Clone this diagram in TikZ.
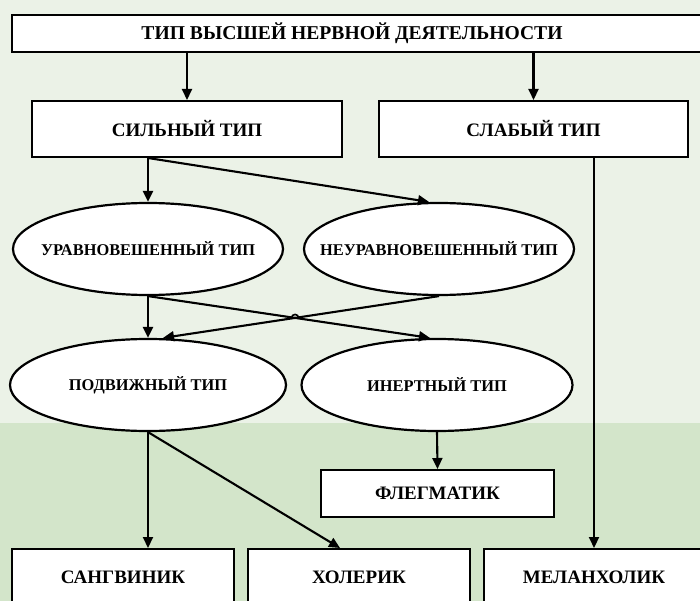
\documentclass[tikz,border=0pt]{standalone}
\usepackage{fontspec}
\setmainfont{Liberation Serif}
\usetikzlibrary{arrows.meta,shapes.geometric,intersections}
\definecolor{bgtop}{HTML}{EBF2E7}
\definecolor{bgbot}{HTML}{D3E5CA}
\begin{document}
\begin{tikzpicture}[x=1pt,y=-1pt,
  box/.style={draw=black,line width=2pt,fill=white,inner sep=0pt,font=\fontsize{19}{22}\selectfont\bfseries},
  oval/.style={ellipse,draw=black,line width=2.2pt,fill=white,inner sep=0pt,minimum width=270pt,minimum height=92pt,font=\fontsize{16.4}{19}\selectfont\bfseries},
  arr/.style={line width=2.1pt,-{Triangle[length=11pt,width=10pt]}},
  hop/.style={line width=1.6pt}]
\fill[bgtop] (0,0) rectangle (700,423);
\fill[bgbot] (0,423) rectangle (700,601);
\useasboundingbox (0,0) rectangle (700,601);
\node[box,minimum width=694pt,minimum height=37pt,font=\fontsize{19.6}{24}\selectfont\bfseries] (top) at (359,33.5) {\hspace*{-14pt}ТИП ВЫСШЕЙ НЕРВНОЙ ДЕЯТЕЛЬНОСТИ};
\node[box,minimum width=310pt,minimum height=56pt] (s1) at (187,129) {СИЛЬНЫЙ ТИП};
\node[box,minimum width=309pt,minimum height=56pt] (s2) at (533.5,129) {СЛАБЫЙ ТИП};
\node[oval] (e1) at (148,249) {\makebox[0pt]{УРАВНОВЕШЕННЫЙ ТИП}};
\node[oval] (e2) at (439,249) {\makebox[0pt]{НЕУРАВНОВЕШЕННЫЙ ТИП}};
\node[oval,minimum width=276pt] (e3) at (148,385) {\makebox[0pt]{ПОДВИЖНЫЙ ТИП}};
\node[oval,minimum width=271pt] (e4) at (437,385) {\makebox[0pt]{ИНЕРТНЫЙ ТИП}};
\node[box,minimum width=233pt,minimum height=47pt] (fl) at (437.5,493.5) {ФЛЕГМАТИК};
\node[box,minimum width=222pt,minimum height=56pt] (sa) at (123,577) {САНГВИНИК};
\node[box,minimum width=222pt,minimum height=56pt] (ho) at (359,577) {ХОЛЕРИК};
\node[box,minimum width=220pt,minimum height=56pt] (me) at (594,577) {МЕЛАНХОЛИК};
\draw[arr] (top.south -| s1.north) -- (s1.north);
\draw[arr] (top.south -| s2.north) -- (s2.north);
\draw[arr] (e1.north |- s1.south) -- (e1.north);
\draw[arr] (e1.north |- s1.south) -- ([xshift=-10pt]e2.north);
\draw[arr] (e1.south) -- (e3.north);
\draw[arr,name path=pa] (e1.south) -- ([xshift=-7pt]e4.north);
\draw[arr,name path=pb] (e2.south) -- ([xshift=15pt]e3.north);
\draw[arr] (e3.south) -- (e3.south |- sa.north);
\draw[arr] (e3.south) -- ([xshift=-19pt]ho.north);
\draw[arr] (e4.south) -- (fl.north);
\draw[arr] (me.north |- s2.south) -- (me.north);
\path[name intersections={of=pa and pb,by=cr}];
\draw[hop] ([xshift=-3.5pt]cr) arc[start angle=180,end angle=360,radius=3.5];
\end{tikzpicture}
\end{document}
